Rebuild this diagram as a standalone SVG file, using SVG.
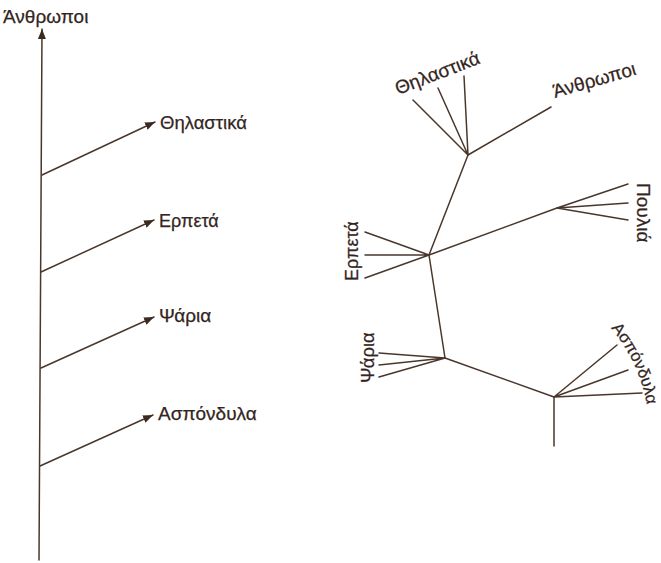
<svg xmlns="http://www.w3.org/2000/svg" width="661" height="563" viewBox="0 0 661 563">
<defs>
<style>
.ln{stroke:#4a372c;stroke-width:1.5;fill:none;stroke-linecap:round}
.t{font-family:"Liberation Sans","DejaVu Sans",sans-serif;font-size:18.5px;fill:#33251d;stroke:#33251d;stroke-width:0.25}
</style>
<marker id="ah" viewBox="0 0 10 8" refX="10" refY="4" markerWidth="10" markerHeight="8" markerUnits="userSpaceOnUse" orient="auto">
<path d="M0,0 L10,4 L0,8 Z" fill="#3a2a21"/>
</marker>
<path id="arcA" d="M 611 328 A 166 166 0 0 1 649 420"/>
</defs>
<rect width="661" height="563" fill="#ffffff"/>
<g id="connectors">
<path class="ln" d="M39 560 L42 29" marker-end="url(#ah)"/>
<path class="ln" d="M42 175 L155 122" marker-end="url(#ah)"/>
<path class="ln" d="M41 272 L154 220" marker-end="url(#ah)"/>
<path class="ln" d="M41 368 L154 317" marker-end="url(#ah)"/>
<path class="ln" d="M40 466 L153 415" marker-end="url(#ah)"/>
<path class="ln" d="M468 155 L413 100 M468 155 L438 88 M468 155 L464 76 M468 155 L551 107"/>
<path class="ln" d="M468 155 L429 255"/>
<path class="ln" d="M429 255 L365 232 M429 255 L365 255 M429 255 L365 278"/>
<path class="ln" d="M429 255 L557 208"/>
<path class="ln" d="M557 208 L628 184 M557 208 L628 203 M557 208 L628 220"/>
<path class="ln" d="M429 255 L445 358"/>
<path class="ln" d="M445 358 L379 353 M445 358 L379 365 M445 358 L379 377"/>
<path class="ln" d="M445 358 L554 397"/>
<path class="ln" d="M554 397 L617 345 M554 397 L628 370 M554 397 L642 393 M554 397 L554 446"/>
</g>
<g id="left-anthropoi"><text class="t" x="3" y="23" style="font-size:19px">Άνθρωποι</text></g>
<g id="left-thilastika"><text class="t" x="160" y="129">Θηλαστικά</text></g>
<g id="left-erpeta"><text class="t" x="159" y="227" style="font-size:18px">Ερπετά</text></g>
<g id="left-psaria"><text class="t" x="159" y="322" style="font-size:19px">Ψάρια</text></g>
<g id="left-aspondyla"><text class="t" x="158" y="420" style="font-size:19px">Ασπόνδυλα</text></g>
<g id="right-thilastika"><text class="t" transform="translate(398,95) rotate(-21)" style="font-size:19px">Θηλαστικά</text></g>
<g id="right-anthropoi"><text class="t" transform="translate(555,98) rotate(-16)" style="font-size:19px">Άνθρωποι</text></g>
<g id="right-poulia"><text class="t" transform="translate(637,183) rotate(90)" style="font-size:19px">Πουλιά</text></g>
<g id="right-erpeta"><text class="t" transform="translate(358,281) rotate(-90)" style="font-size:18px">Ερπετά</text></g>
<g id="right-psaria"><text class="t" transform="translate(374,383) rotate(-90)" style="font-size:18.5px">Ψάρια</text></g>
<g id="right-aspondyla"><text class="t" style="font-size:16.5px"><textPath href="#arcA">Ασπόνδυλα</textPath></text></g>
</svg>
